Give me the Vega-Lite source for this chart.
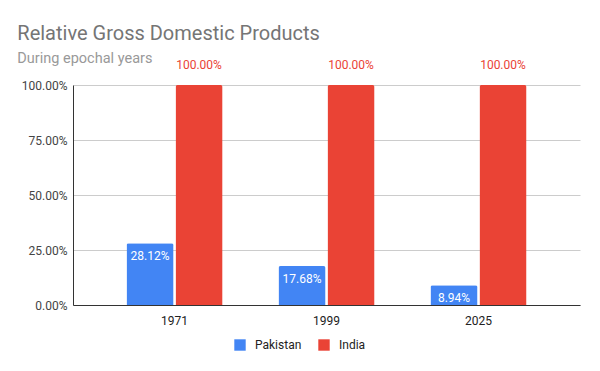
{
  "$schema": "https://vega.github.io/schema/vega-lite/v6.json",
  "autosize": {"type": "none"},
  "padding": {"left": 73, "top": 85, "right": 20, "bottom": 66},
  "width": 507,
  "height": 220,
  "background": "white",
  "title": {
    "text": "Relative Gross Domestic Products",
    "subtitle": "During epochal years",
    "anchor": "start",
    "dx": -4,
    "offset": -6,
    "font": "Roboto",
    "fontSize": 20,
    "fontWeight": "normal",
    "color": "#757575",
    "subtitleFont": "Roboto",
    "subtitleFontSize": 14.5,
    "subtitleColor": "#999999",
    "subtitlePadding": 8
  },
  "config": {
    "view": {"stroke": null},
    "font": "Roboto"
  },
  "data": {
    "values": [
      {"year": "1971", "country": "Pakistan", "value": 0.2812},
      {"year": "1971", "country": "India", "value": 1.0},
      {"year": "1999", "country": "Pakistan", "value": 0.1768},
      {"year": "1999", "country": "India", "value": 1.0},
      {"year": "2025", "country": "Pakistan", "value": 0.0894},
      {"year": "2025", "country": "India", "value": 1.0}
    ]
  },
  "encoding": {
    "x": {
      "field": "year", "type": "nominal",
      "scale": {"paddingInner": 0.368, "paddingOuter": 0.352},
      "axis": {"title": null, "labelAngle": 0, "domainColor": "#333333", "ticks": false, "labelFontSize": 12, "labelColor": "#222222", "labelPadding": 10}
    },
    "xOffset": {"field": "country", "type": "nominal", "sort": ["Pakistan", "India"], "scale": {"paddingInner": 0.04}},
    "y": {
      "field": "value", "type": "quantitative",
      "scale": {"domain": [0, 1], "nice": false},
      "axis": {"title": null, "format": ".2%", "values": [0, 0.25, 0.5, 0.75, 1], "labelOverlap": false, "domainColor": "#333333", "ticks": false, "gridColor": "#cccccc", "labelFontSize": 12, "labelColor": "#444444", "labelPadding": 6}
    }
  },
  "layer": [
    {
      "mark": {"type": "bar", "cornerRadiusTopLeft": 2, "cornerRadiusTopRight": 2},
      "encoding": {
        "color": {
          "field": "country", "type": "nominal",
          "sort": ["Pakistan", "India"],
          "scale": {"domain": ["Pakistan", "India"], "range": ["#4285F4", "#EA4335"]},
          "legend": {"title": null, "orient": "none", "legendX": 161, "legendY": 254, "direction": "horizontal", "symbolType": "square", "symbolSize": 130, "symbolStrokeWidth": 0, "labelFontSize": 12, "labelColor": "#222222", "labelOffset": 9, "columnPadding": 16}
        }
      }
    },
    {
      "transform": [{"filter": "datum.country === 'Pakistan'"}],
      "mark": {"type": "text", "baseline": "top", "dy": 8, "color": "white", "fontSize": 12},
      "encoding": {"text": {"field": "value", "format": ".2%"}}
    },
    {
      "transform": [{"filter": "datum.country === 'India'"}],
      "mark": {"type": "text", "baseline": "bottom", "dy": -13, "color": "#EA4335", "fontSize": 12},
      "encoding": {"text": {"field": "value", "format": ".2%"}}
    }
  ]
}
